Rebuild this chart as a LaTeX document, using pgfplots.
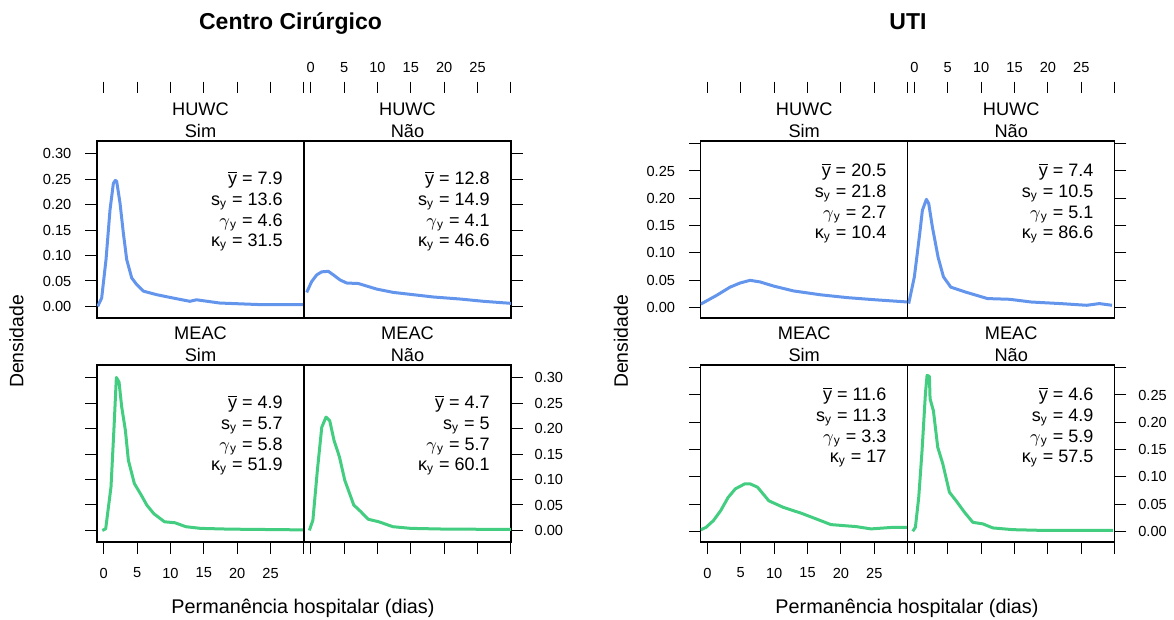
\documentclass[border=0pt]{standalone}
\usepackage{fontspec}
\setmainfont{Liberation Sans}
\usepackage{pgfplots}
\pgfplotsset{compat=1.18}
\definecolor{cblue}{RGB}{100,149,237}
\definecolor{cgreen}{RGB}{67,205,128}
\pgfplotsset{
  panel/.style={scale only axis, width=103.5pt, height=88.5pt, anchor=south west,
    xmin=-1, xmax=30, clip mode=individual,
    axis line style={line width=0.7pt},
    tick align=outside, major tick length=5.8pt,
    every tick/.style={black, line width=0.5pt},
    xtick={0,5,10,15,20,25,30}, ytick={0,0.05,0.1,0.15,0.2,0.25,0.3},
    tick label style={font=\fontsize{7.3}{8.8}\selectfont},
  },
  leftfig/.style={ymin=-0.0228, ymax=0.3255},
  rightfig/.style={ymin=-0.0196, ymax=0.305},
  noxt/.style={xtick=\empty},
  ylabL/.style={ytick pos=left, yticklabel pos=left, yticklabel style={xshift=-3.5pt}},
  ylabR/.style={ytick pos=right, yticklabel pos=right, yticklabel style={xshift=2.5pt}},
  xlabB/.style={xtick pos=lower, xticklabel pos=lower, xticklabel style={yshift=-3.6pt},
     xticklabels={0,5,10,15,20,25,{}}},
  xnolabB/.style={xtick pos=lower, xticklabels={}},
  tickrow/.style={scale only axis, width=103.5pt, height=2pt, anchor=north west,
    xmin=-1, xmax=30, ymin=0, ymax=1, axis line style={draw=none}, ytick=\empty,
    xtick={0,5,10,15,20,25,30}, xtick pos=upper, xticklabel pos=upper,
    tick align=outside, major tick length=5.8pt,
    every tick/.style={black, line width=0.5pt},
    tick label style={font=\fontsize{7.3}{8.8}\selectfont},
    xticklabel style={yshift=0.8pt}},
  bline/.style={cblue, line width=1.5pt, line join=round},
  gline/.style={cgreen, line width=1.5pt, line join=round},
}
\tikzset{
  statnode/.style={anchor=base east, inner sep=0pt, font=\fontsize{9}{10}\selectfont},
  stripnode/.style={anchor=base, inner sep=0pt, font=\fontsize{9.1}{10}\selectfont},
}
\newcommand{\stats}[5]{%
  \node[statnode] at ([xshift=-10.5pt,yshift=-#1]rel axis cs:1,1) {$\overline{\hbox{y}}$ = #2};
  \node[statnode] at ([xshift=-10.5pt,yshift=-#1-10.3pt]rel axis cs:1,1) {s\textsubscript{y} = #3};
  \node[statnode] at ([xshift=-10.5pt,yshift=-#1-20.6pt]rel axis cs:1,1) {$\gamma$\textsubscript{y} = #4};
  \node[statnode] at ([xshift=-10.5pt,yshift=-#1-30.9pt]rel axis cs:1,1) {κ\textsubscript{y} = #5};
}
\newcommand{\strip}[2]{%
  \node[stripnode] at ([yshift=12.75pt]rel axis cs:0.5,1) {#1};
  \node[stripnode] at ([yshift=1.75pt]rel axis cs:0.5,1) {#2};
}
\begin{document}
\begin{tikzpicture}
\useasboundingbox (0pt,0pt) rectangle (587pt,310pt);

% ================= Centro Cirurgico =================
\node[anchor=base, font=\fontsize{11.5}{13}\selectfont\bfseries] at (145.25pt,295pt) {Centro Cirúrgico};
\node[rotate=90, font=\fontsize{9.7}{11}\selectfont] at (8.25pt,139.25pt) {Densidade};
\node[anchor=base, font=\fontsize{9.9}{11}\selectfont] at (151.5pt,3.3pt) {Permanência hospitalar (dias)};

\begin{axis}[tickrow, at={(48.5pt,263.35pt)}, xticklabels={}]
\end{axis}
\begin{axis}[tickrow, at={(152pt,263.35pt)}, xticklabels={0,5,10,15,20,25,{}}]
\end{axis}

\begin{axis}[panel, leftfig, at={(48.5pt,151pt)}, noxt, ylabL,
  yticklabels={0.00,0.05,0.10,0.15,0.20,0.25,0.30}]
\addplot[bline] coordinates {(-0.9,0.0) (-0.3,0.0165) (0.35,0.092) (0.95,0.19) (1.45,0.242) (1.75,0.248) (1.95,0.246) (2.45,0.203) (2.95,0.144) (3.45,0.092) (4.2,0.056) (4.95,0.043) (5.95,0.030) (7.95,0.023) (10.4,0.0165) (12.9,0.010) (13.9,0.013) (17.4,0.0066) (23.9,0.0033) (30,0.0033)};
\strip{HUWC}{Sim}
\stats{22pt}{7.9}{13.6}{4.6}{31.5}
\end{axis}

\begin{axis}[panel, leftfig, at={(152pt,151pt)}, noxt, ytick pos=right, yticklabels={}]
\addplot[bline] coordinates {(-0.6,0.0275) (0.15,0.049) (0.9,0.062) (1.65,0.068) (2.65,0.069) (3.4,0.062) (4.4,0.052) (5.4,0.046) (7.15,0.045) (9.9,0.034) (12.4,0.0275) (15.4,0.023) (18.4,0.0185) (22.4,0.0145) (25.9,0.010) (29.4,0.0066) (30,0.006)};
\strip{HUWC}{Não}
\stats{22pt}{12.8}{14.9}{4.1}{46.6}
\end{axis}

\begin{axis}[panel, leftfig, at={(48.5pt,39pt)}, xlabB, ytick pos=left, yticklabels={}]
\addplot[gline] coordinates {(-0.2,0) (0.3,0.003) (1.1,0.086) (1.55,0.203) (1.9,0.301) (2.3,0.292) (2.7,0.243) (3.25,0.197) (3.7,0.138) (4.6,0.092) (5.65,0.069) (6.45,0.050) (7.5,0.033) (9.1,0.017) (10.7,0.015) (12.3,0.0073) (14.5,0.004) (18.8,0.0025) (30,0.001)};
\strip{MEAC}{Sim}
\stats{22pt}{4.9}{5.7}{5.8}{51.9}
\end{axis}

\begin{axis}[panel, leftfig, at={(152pt,39pt)}, xnolabB, ylabR,
  yticklabels={0.00,0.05,0.10,0.15,0.20,0.25,0.30}]
\addplot[gline] coordinates {(-0.2,0) (0.33,0.020) (1.0,0.118) (1.66,0.203) (2.3,0.223) (2.85,0.216) (3.5,0.177) (4.3,0.145) (5.1,0.099) (6.45,0.050) (7.5,0.037) (8.6,0.022) (10.2,0.017) (12.3,0.0073) (15,0.004) (20.4,0.0025) (30,0.002)};
\strip{MEAC}{Não}
\stats{22pt}{4.7}{5}{5.7}{60.1}
\end{axis}

% ================= UTI =================
\node[anchor=base, font=\fontsize{11.5}{13}\selectfont\bfseries] at (454pt,295pt) {UTI};
\node[rotate=90, font=\fontsize{9.7}{11}\selectfont] at (310.5pt,139.25pt) {Densidade};
\node[anchor=base, font=\fontsize{9.9}{11}\selectfont] at (453.5pt,3.3pt) {Permanência hospitalar (dias)};

\begin{axis}[tickrow, at={(350.35pt,263.35pt)}, xticklabels={}]
\end{axis}
\begin{axis}[tickrow, at={(453.85pt,263.35pt)}, xticklabels={0,5,10,15,20,25,{}}]
\end{axis}

\begin{axis}[panel, rightfig, at={(350.35pt,151pt)}, noxt, ylabL,
  yticklabels={0.00,0.05,0.10,0.15,0.20,0.25,{}}]
\addplot[bline] coordinates {(-1,0.006) (-0.85,0.0068) (1.4,0.022) (3.4,0.037) (4.9,0.0446) (6.4,0.0495) (7.9,0.0465) (9.9,0.039) (12.9,0.030) (16.9,0.023) (20.9,0.0178) (24.9,0.014) (29.9,0.0098)};
\strip{HUWC}{Sim}
\stats{18pt}{20.5}{21.8}{2.7}{10.4}
\end{axis}

\begin{axis}[panel, rightfig, at={(453.85pt,151pt)}, noxt, ytick pos=right, yticklabels={}]
\addplot[bline] coordinates {(-0.85,0.0068) (0,0.056) (0.8,0.135) (1.2,0.178) (1.8,0.198) (2.15,0.190) (2.7,0.147) (3.55,0.092) (4.35,0.056) (5.45,0.037) (7.65,0.028) (10.95,0.016) (14.25,0.0147) (17.5,0.0097) (21.9,0.0068) (25.8,0.0037) (27.7,0.0068) (29.6,0.0037)};
\strip{HUWC}{Não}
\stats{18pt}{7.4}{10.5}{5.1}{86.6}
\end{axis}

\begin{axis}[panel, rightfig, at={(350.35pt,39pt)}, xlabB, ytick pos=left, yticklabels={}]
\addplot[gline] coordinates {(-1,0.0026) (-0.2,0.0073) (0.9,0.0196) (2.0,0.038) (3.1,0.062) (4.2,0.078) (5.6,0.087) (6.4,0.087) (7.5,0.081) (9.2,0.056) (11.35,0.044) (14.1,0.033) (16.3,0.0227) (18.5,0.0123) (22.3,0.0086) (24.5,0.0044) (27.8,0.0073) (29.9,0.0073)};
\strip{MEAC}{Sim}
\stats{18pt}{11.6}{11.3}{3.3}{17}
\end{axis}

\begin{axis}[panel, rightfig, at={(453.85pt,39pt)}, xnolabB, ylabR,
  yticklabels={0.00,0.05,0.10,0.15,0.20,0.25,{}}]
\addplot[gline] coordinates {(-0.25,0) (0.15,0.0073) (0.65,0.062) (1.15,0.148) (1.65,0.252) (1.9,0.286) (2.25,0.284) (2.35,0.243) (2.85,0.221) (3.5,0.154) (4.25,0.124) (5.25,0.0716) (6.25,0.056) (7.5,0.035) (8.75,0.0165) (10.25,0.0136) (11.75,0.0062) (14.75,0.003) (19.75,0.0015) (29.75,0.0015)};
\strip{MEAC}{Não}
\stats{18pt}{4.6}{4.9}{5.9}{57.5}
\end{axis}
\end{tikzpicture}
\end{document}
